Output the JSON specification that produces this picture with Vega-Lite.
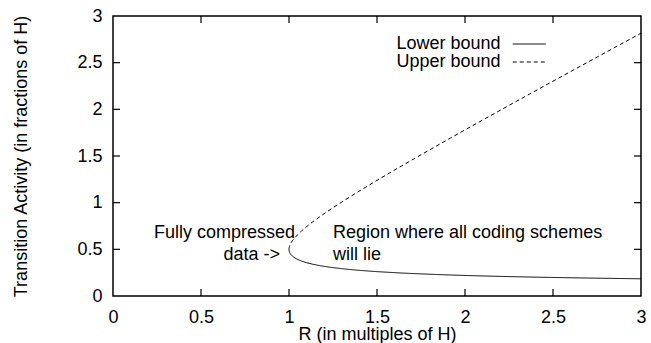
{
  "$schema": "https://vega.github.io/schema/vega-lite/v6.json",
  "width": 528,
  "height": 280,
  "autosize": {"type": "none"},
  "padding": {"left": 113, "top": 16, "right": 10, "bottom": 47},
  "background": "white",
  "config": {
    "view": {"stroke": "black", "strokeWidth": 1.5},
    "font": "Liberation Sans",
    "axis": {
      "domain": false,
      "ticks": false,
      "grid": false,
      "labelFont": "Liberation Sans",
      "labelFontSize": 18,
      "labelColor": "black",
      "titleFont": "Liberation Sans",
      "titleFontSize": 18,
      "titleFontWeight": "normal",
      "titleColor": "black"
    },
    "legend": {
      "labelFont": "Liberation Sans",
      "labelFontSize": 18,
      "labelColor": "black"
    }
  },
  "datasets": {
    "curves": [
      {"R": 1.0, "A": 0.5, "bound": "Lower bound"},
      {"R": 1.000289, "A": 0.49014, "bound": "Lower bound"},
      {"R": 1.00116, "A": 0.48056, "bound": "Lower bound"},
      {"R": 1.002605, "A": 0.471224, "bound": "Lower bound"},
      {"R": 1.004643, "A": 0.462136, "bound": "Lower bound"},
      {"R": 1.00728, "A": 0.45328, "bound": "Lower bound"},
      {"R": 1.010522, "A": 0.44463, "bound": "Lower bound"},
      {"R": 1.0189, "A": 0.42794, "bound": "Lower bound"},
      {"R": 1.02992, "A": 0.41197, "bound": "Lower bound"},
      {"R": 1.04774, "A": 0.3929, "bound": "Lower bound"},
      {"R": 1.07059, "A": 0.37471, "bound": "Lower bound"},
      {"R": 1.09922, "A": 0.35725, "bound": "Lower bound"},
      {"R": 1.1347, "A": 0.34041, "bound": "Lower bound"},
      {"R": 1.17848, "A": 0.32408, "bound": "Lower bound"},
      {"R": 1.23263, "A": 0.30816, "bound": "Lower bound"},
      {"R": 1.30006, "A": 0.29251, "bound": "Lower bound"},
      {"R": 1.38518, "A": 0.27704, "bound": "Lower bound"},
      {"R": 1.49473, "A": 0.26158, "bound": "Lower bound"},
      {"R": 1.63977, "A": 0.24597, "bound": "Lower bound"},
      {"R": 1.83971, "A": 0.22996, "bound": "Lower bound"},
      {"R": 2.00034, "A": 0.22004, "bound": "Lower bound"},
      {"R": 2.13222, "A": 0.21322, "bound": "Lower bound"},
      {"R": 2.29111, "A": 0.2062, "bound": "Lower bound"},
      {"R": 2.48646, "A": 0.19892, "bound": "Lower bound"},
      {"R": 2.73282, "A": 0.1913, "bound": "Lower bound"},
      {"R": 2.882, "A": 0.18733, "bound": "Lower bound"},
      {"R": 3.0, "A": 0.18447, "bound": "Lower bound"},
      {"R": 1.0, "A": 0.5, "bound": "Upper bound"},
      {"R": 1.000289, "A": 0.50995, "bound": "Upper bound"},
      {"R": 1.00116, "A": 0.5206, "bound": "Upper bound"},
      {"R": 1.002605, "A": 0.531381, "bound": "Upper bound"},
      {"R": 1.004643, "A": 0.542507, "bound": "Upper bound"},
      {"R": 1.00728, "A": 0.554, "bound": "Upper bound"},
      {"R": 1.010522, "A": 0.565892, "bound": "Upper bound"},
      {"R": 1.0189, "A": 0.59096, "bound": "Upper bound"},
      {"R": 1.02992, "A": 0.61795, "bound": "Upper bound"},
      {"R": 1.04774, "A": 0.65484, "bound": "Upper bound"},
      {"R": 1.07059, "A": 0.69588, "bound": "Upper bound"},
      {"R": 1.09922, "A": 0.74197, "bound": "Upper bound"},
      {"R": 1.1347, "A": 0.79429, "bound": "Upper bound"},
      {"R": 1.17848, "A": 0.8544, "bound": "Upper bound"},
      {"R": 1.23263, "A": 0.92447, "bound": "Upper bound"},
      {"R": 1.30006, "A": 1.00755, "bound": "Upper bound"},
      {"R": 1.38518, "A": 1.10814, "bound": "Upper bound"},
      {"R": 1.49473, "A": 1.23316, "bound": "Upper bound"},
      {"R": 1.63977, "A": 1.39381, "bound": "Upper bound"},
      {"R": 1.83971, "A": 1.60975, "bound": "Upper bound"},
      {"R": 2.00034, "A": 1.7803, "bound": "Upper bound"},
      {"R": 2.13222, "A": 1.91899, "bound": "Upper bound"},
      {"R": 2.29111, "A": 2.08491, "bound": "Upper bound"},
      {"R": 2.48646, "A": 2.28754, "bound": "Upper bound"},
      {"R": 2.73282, "A": 2.54152, "bound": "Upper bound"},
      {"R": 2.882, "A": 2.69467, "bound": "Upper bound"},
      {"R": 3.0, "A": 2.81553, "bound": "Upper bound"}
    ],
    "labelsRight": [
      {"R": 1.034, "A": 0.621, "text": "Fully compressed"},
      {"R": 0.949, "A": 0.386, "text": "data ->"}
    ],
    "labelsLeft": [
      {"R": 1.25, "A": 0.621, "text": "Region where all coding schemes"},
      {"R": 1.25, "A": 0.386, "text": "will lie"}
    ],
    "bottomTicks": [{"R": 0.5, "A": 0}, {"R": 1, "A": 0}, {"R": 1.5, "A": 0}, {"R": 2, "A": 0}, {"R": 2.5, "A": 0}],
    "topTicks": [{"R": 0.5, "A": 3}, {"R": 1, "A": 3}, {"R": 1.5, "A": 3}, {"R": 2, "A": 3}, {"R": 2.5, "A": 3}],
    "leftTicks": [{"R": 0, "A": 0.5}, {"R": 0, "A": 1}, {"R": 0, "A": 1.5}, {"R": 0, "A": 2}, {"R": 0, "A": 2.5}],
    "rightTicks": [{"R": 3, "A": 0.5}, {"R": 3, "A": 1}, {"R": 3, "A": 1.5}, {"R": 3, "A": 2}, {"R": 3, "A": 2.5}]
  },
  "layer": [
    {
      "data": {"name": "curves"},
      "mark": {"type": "line", "color": "black", "strokeWidth": 1, "clip": true},
      "encoding": {
        "x": {
          "field": "R", "type": "quantitative",
          "scale": {"domain": [0, 3], "nice": false, "zero": false},
          "axis": {
            "orient": "bottom",
            "values": [0, 0.5, 1, 1.5, 2, 2.5, 3],
            "format": "~g",
            "labelPadding": 12,
            "labelFlush": false,
            "title": "R (in multiples of H)",
            "titleX": 264,
            "titleY": 43,
            "titleAnchor": null,
            "titleAlign": "center",
            "titleBaseline": "alphabetic"
          }
        },
        "y": {
          "field": "A", "type": "quantitative",
          "scale": {"domain": [0, 3], "nice": false, "zero": false},
          "axis": {
            "orient": "left",
            "values": [0, 0.5, 1, 1.5, 2, 2.5, 3],
            "format": "~g",
            "labelPadding": 11,
            "labelFlush": false,
            "title": "Transition Activity (in fractions of H)",
            "titleX": -87,
            "titleY": 140,
            "titleAngle": -90,
            "titleAlign": "center",
            "titleBaseline": "alphabetic"
          }
        },
        "strokeDash": {
          "field": "bound", "type": "nominal",
          "scale": {"domain": ["Lower bound", "Upper bound"], "range": [[1, 0], [4, 3]]},
          "legend": {
            "title": null,
            "orient": "none",
            "legendX": 386,
            "legendY": 19,
            "padding": 0,
            "symbolType": "M-2,0H2",
            "symbolSize": 272.25,
            "symbolStrokeColor": "black",
            "symbolStrokeWidth": 1,
            "labelAlign": "right",
            "labelOffset": -37.75,
            "symbolOffset": 21.25,
            "rowPadding": 0
          }
        }
      }
    },
    {
      "data": {"name": "bottomTicks"},
      "mark": {"type": "point", "shape": "M0,0V-1", "size": 196, "filled": false, "stroke": "black", "strokeWidth": 1.2, "opacity": 1},
      "encoding": {
        "x": {"field": "R", "type": "quantitative"},
        "y": {"field": "A", "type": "quantitative"}
      }
    },
    {
      "data": {"name": "topTicks"},
      "mark": {"type": "point", "shape": "M0,0V1", "size": 196, "filled": false, "stroke": "black", "strokeWidth": 1.2, "opacity": 1},
      "encoding": {
        "x": {"field": "R", "type": "quantitative"},
        "y": {"field": "A", "type": "quantitative"}
      }
    },
    {
      "data": {"name": "leftTicks"},
      "mark": {"type": "point", "shape": "M0,0H1", "size": 196, "filled": false, "stroke": "black", "strokeWidth": 1.2, "opacity": 1},
      "encoding": {
        "x": {"field": "R", "type": "quantitative"},
        "y": {"field": "A", "type": "quantitative"}
      }
    },
    {
      "data": {"name": "rightTicks"},
      "mark": {"type": "point", "shape": "M0,0H-1", "size": 196, "filled": false, "stroke": "black", "strokeWidth": 1.2, "opacity": 1},
      "encoding": {
        "x": {"field": "R", "type": "quantitative"},
        "y": {"field": "A", "type": "quantitative"}
      }
    },
    {
      "data": {"name": "labelsRight"},
      "mark": {"type": "text", "align": "right", "baseline": "alphabetic", "fontSize": 18, "font": "Liberation Sans", "color": "black"},
      "encoding": {
        "x": {"field": "R", "type": "quantitative"},
        "y": {"field": "A", "type": "quantitative"},
        "text": {"field": "text"}
      }
    },
    {
      "data": {"name": "labelsLeft"},
      "mark": {"type": "text", "align": "left", "baseline": "alphabetic", "fontSize": 18, "font": "Liberation Sans", "color": "black"},
      "encoding": {
        "x": {"field": "R", "type": "quantitative"},
        "y": {"field": "A", "type": "quantitative"},
        "text": {"field": "text"}
      }
    }
  ]
}
